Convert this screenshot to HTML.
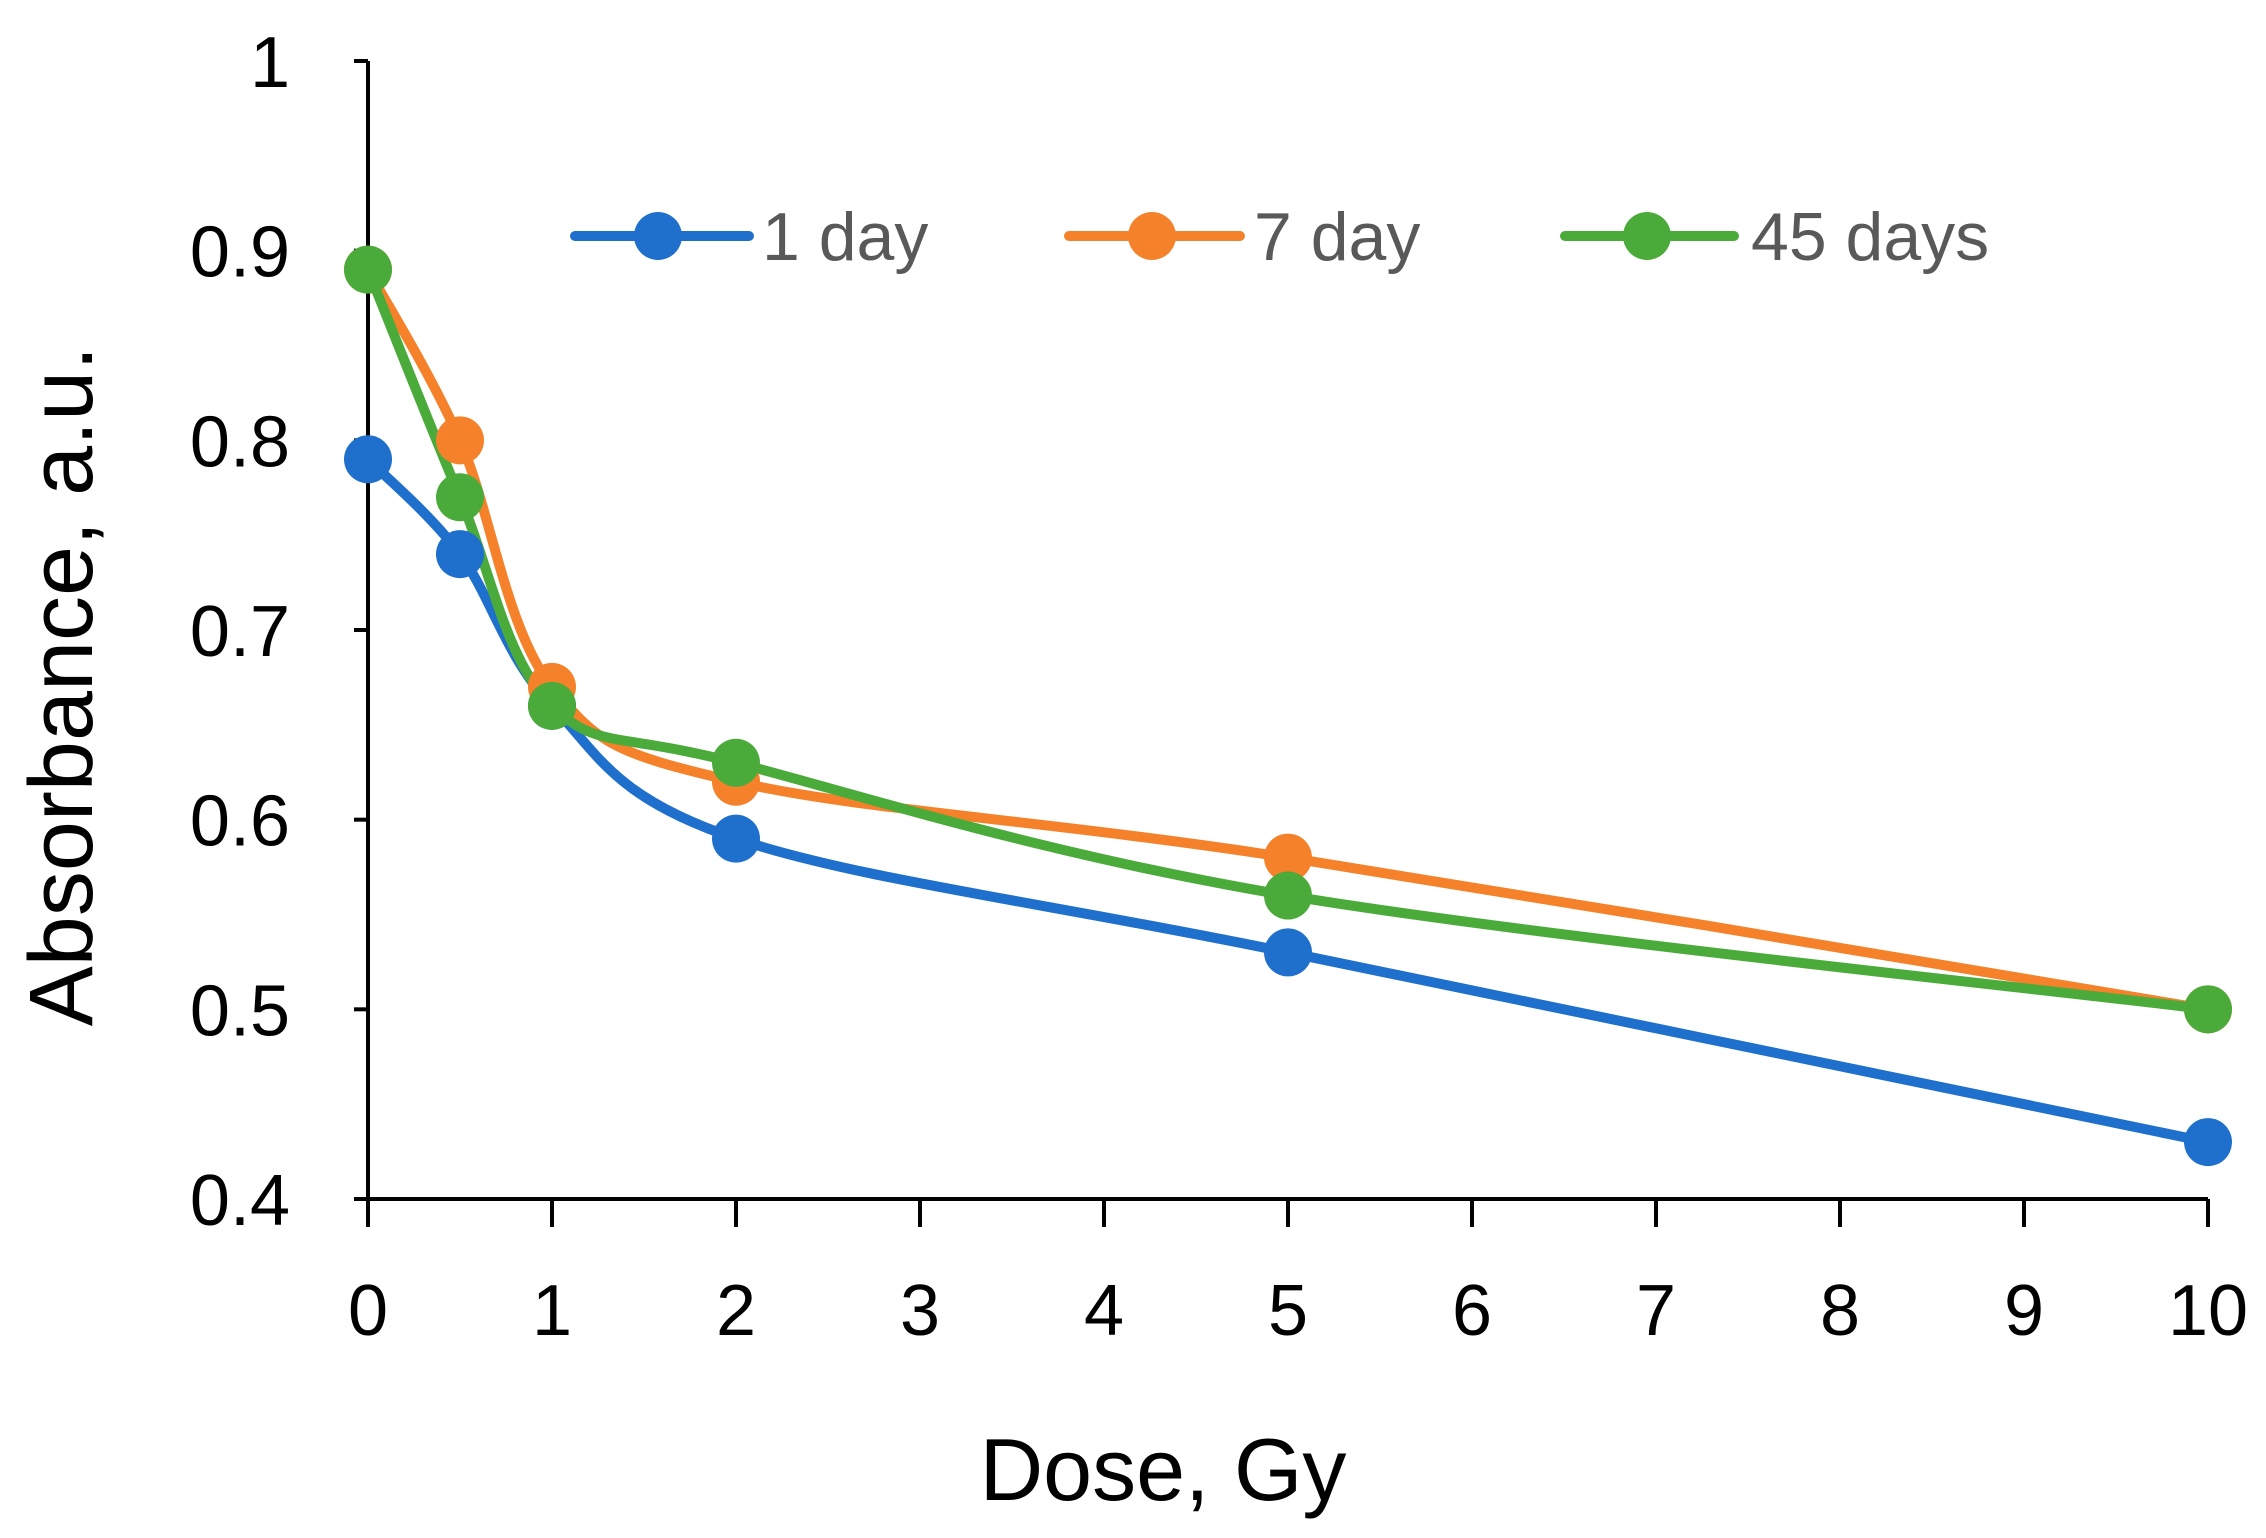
<!DOCTYPE html>
<html><head><meta charset="utf-8"><style>
html,body{margin:0;padding:0;background:#fff;}
svg{display:block;font-family:"Liberation Sans",sans-serif;}
</style></head><body>
<svg id="chart" width="2266" height="1538" viewBox="0 0 2266 1538"></svg>
<script>
const doses = [0, 0.5, 1, 2, 5, 10];
const day1 = [0.79, 0.74, 0.66, 0.59, 0.53, 0.43];
const day7 = [0.89, 0.80, 0.67, 0.62, 0.58, 0.50];
const day45 = [0.89, 0.77, 0.66, 0.63, 0.56, 0.50];
const seriesNames = ["1 day", "7 day", "45 days"];
const xTicks = [0,1,2,3,4,5,6,7,8,9,10];
const yTicks = [0.4,0.5,0.6,0.7,0.8,0.9,1];
const yTickLabels = ["0.4","0.5","0.6","0.7","0.8","0.9","1"];

const NS="http://www.w3.org/2000/svg";
const svg=document.getElementById('chart');
const X0=368,X1=2208,Y0=1199,Y1=61;
const xs=v=>X0+(v-0)/(10-0)*(X1-X0);
const ys=v=>Y0-(v-0.4)/(1-0.4)*(Y0-Y1);
function mk(t,a,p){const e=document.createElementNS(NS,t);for(const k in a)e.setAttribute(k,a[k]);(p||svg).appendChild(e);return e;}

const axisY=mk('line',{x1:X0,y1:Y1,x2:X0,y2:Y0,stroke:'#000','stroke-width':4});


const axisX=mk('line',{x1:X0,y1:Y0,x2:X1,y2:Y0,stroke:'#000','stroke-width':4});



yTicks.forEach((v,i)=>{
  mk('line',{x1:X0-14,y1:ys(v),x2:X0,y2:ys(v),stroke:'#000','stroke-width':4});
  const t=mk('text',{x:290,y:ys(v)+26,'text-anchor':'end','font-size':72,fill:'#000'});
  t.textContent=yTickLabels[i];
  
  
});
xTicks.forEach(v=>{
  mk('line',{x1:xs(v),y1:Y0,x2:xs(v),y2:Y0+28,stroke:'#000','stroke-width':4});
  const t=mk('text',{x:xs(v),y:1335,'text-anchor':'middle','font-size':72,fill:'#000'});
  t.textContent=String(v);
  
  
});

const yt=mk('text',{x:0,y:0,'text-anchor':'middle','font-size':90,fill:'#000',transform:'translate(92,686) rotate(-90)'});
yt.textContent='Absorbance, a.u.';


const xt=mk('text',{x:1163,y:1500,'text-anchor':'middle','font-size':88,fill:'#000'});
xt.textContent='Dose, Gy';



function smooth(pts){
  let d=`M${pts[0][0]},${pts[0][1]}`;
  for(let i=0;i<pts.length-1;i++){
    const p0=pts[i-1]||pts[i],p1=pts[i],p2=pts[i+1],p3=pts[i+2]||p2;
    const t=1/6;
    const c1=[p1[0]+(p2[0]-p0[0])*t,p1[1]+(p2[1]-p0[1])*t];
    const c2=[p2[0]-(p3[0]-p1[0])*t,p2[1]-(p3[1]-p1[1])*t];
    d+=` C${c1[0]},${c1[1]} ${c2[0]},${c2[1]} ${p2[0]},${p2[1]}`;
  }
  return d;
}
const colors=['#1f6fcc','#f5822a','#4aab3a'];
const data=[day1,day7,day45];
const order=[0,1,2];
order.forEach(s=>{
  const pts=doses.map((x,i)=>[xs(x),ys(data[s][i])]);
  const p=mk('path',{d:smooth(pts),fill:'none',stroke:colors[s],'stroke-width':10,'stroke-linejoin':'round'});
  
  
});
order.forEach(s=>{
  doses.forEach((x,i)=>{
    const c=mk('circle',{cx:xs(x),cy:ys(data[s][i]),r:24,fill:colors[s]});
    
    
  });
});

const legX=[[575,749,658,762],[1069,1240,1152,1254],[1565,1734,1647,1751]];
const LY=236;
seriesNames.forEach((n,s)=>{
  const g=mk('g',{});
  
  
  mk('line',{x1:legX[s][0],y1:LY,x2:legX[s][1],y2:LY,stroke:colors[s],'stroke-width':10,'stroke-linecap':'round'},g);
  mk('circle',{cx:legX[s][2],cy:LY,r:24,fill:colors[s]},g);
  const t=mk('text',{x:legX[s][3],y:LY+24,'font-size':68,fill:'#595959'},g);
  t.textContent=n;
});
</script>
</body></html>
